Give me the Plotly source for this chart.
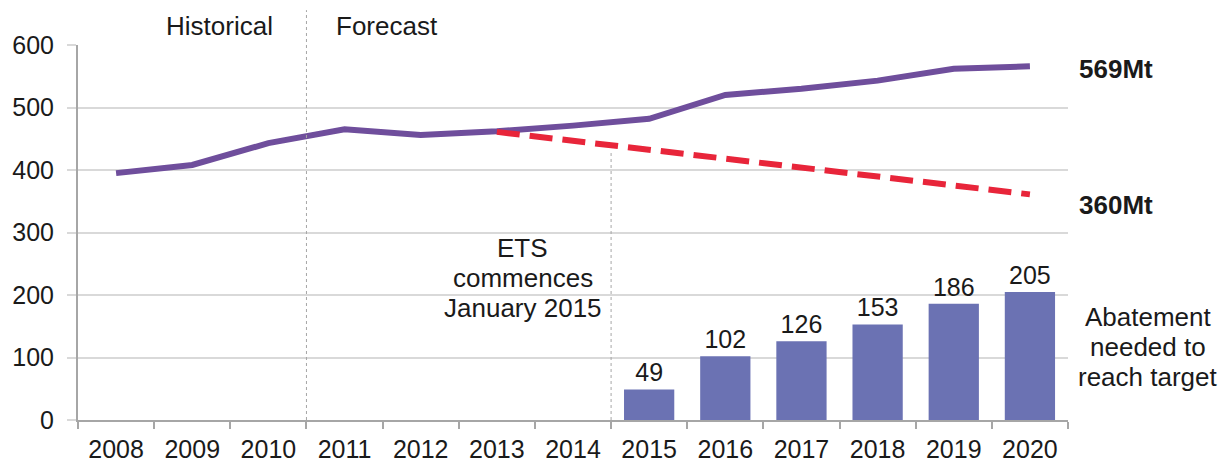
import plotly.graph_objects as go

years = ["2008", "2009", "2010", "2011", "2012", "2013", "2014",
         "2015", "2016", "2017", "2018", "2019", "2020"]
emissions = [395, 408, 443, 465, 456, 462, 471, 482, 520, 530, 543, 562, 566]

target_years = ["2013", "2014", "2015", "2016", "2017", "2018", "2019", "2020"]
target = [461, 447, 433, 418, 404, 389, 375, 361]

abatement_years = ["2015", "2016", "2017", "2018", "2019", "2020"]
abatement = [49, 102, 126, 153, 186, 205]

y_ticks = [0, 100, 200, 300, 400, 500, 600]

FONT = "Liberation Sans, Arial, sans-serif"
TEXT = "#1a1a1a"
TICK_SIZE = 25
NOTE_SIZE = 26

fig = go.Figure()

fig.add_trace(
    go.Bar(
        x=abatement_years,
        y=abatement,
        marker=dict(color="#6b72b3", line=dict(width=0)),
        width=0.66,
        text=[str(v) for v in abatement],
        textposition="outside",
        textfont=dict(size=TICK_SIZE, color=TEXT, family=FONT),
        cliponaxis=False,
        showlegend=False,
    )
)

fig.add_trace(
    go.Scatter(
        x=years,
        y=emissions,
        mode="lines",
        line=dict(color="#6f4e9c", width=6),
        showlegend=False,
    )
)

fig.add_trace(
    go.Scatter(
        x=target_years,
        y=target,
        mode="lines",
        line=dict(color="#e8253a", width=6, dash="23px,10px"),
        showlegend=False,
    )
)

# boundaries between categories for the vertical markers
forecast_x = years.index("2011") - 0.5
ets_x = years.index("2015") - 0.5

fig.add_shape(
    type="line", xref="x", yref="paper",
    x0=forecast_x, x1=forecast_x, y0=0, y1=1.093,
    line=dict(color="#a6a6a6", width=1, dash="3px,3px"),
)
fig.add_shape(
    type="line", xref="x", yref="y",
    x0=ets_x, x1=ets_x, y0=0, y1=432,
    line=dict(color="#a6a6a6", width=1, dash="3px,3px"),
)


def note(x, y, text, xref="x", yref="y", xanchor="center"):
    fig.add_annotation(
        x=x, y=y, xref=xref, yref=yref, text=text,
        xanchor=xanchor, yanchor="middle", showarrow=False,
        font=dict(size=NOTE_SIZE, color=TEXT, family=FONT),
    )


note(1.358, 1.05, "Historical", yref="paper")
note(3.558, 1.05, "Forecast", yref="paper")

# one line per annotation to keep the tight line spacing
for text, y in zip(["ETS", "commences", "January 2015"], [275, 227, 179]):
    note(5.34, y, text)

note(1.009, 562, "<b>569Mt</b>", xref="paper", xanchor="left")
note(1.009, 344, "<b>360Mt</b>", xref="paper", xanchor="left")

for text, y in zip(["Abatement", "needed to", "reach target"], [165, 117, 69]):
    note(1.0813, y, text, xref="paper")

# the page body adds 8px, so the figure is 8px smaller and margins shifted
fig.update_layout(
    width=1222,
    height=461,
    margin=dict(l=70, r=162, t=37, b=49),
    plot_bgcolor="white",
    paper_bgcolor="white",
    font=dict(family=FONT, size=TICK_SIZE, color=TEXT),
)

fig.update_xaxes(
    type="category",
    categoryorder="array",
    categoryarray=years,
    range=[-0.5, len(years) - 0.5],
    tickson="boundaries",
    ticks="outside",
    ticklen=7,
    tickcolor="#a6a6a6",
    tickwidth=2,
    showline=True,
    linecolor="#a6a6a6",
    linewidth=2,
    showgrid=False,
    automargin=False,
    ticklabelstandoff=6,
    tickfont=dict(size=TICK_SIZE, color=TEXT),
)

fig.update_yaxes(
    range=[0, 600],
    tickvals=y_ticks,
    showgrid=True,
    gridcolor="#d9d9d9",
    gridwidth=2,
    showline=True,
    linecolor="#a6a6a6",
    linewidth=2,
    ticks="outside",
    ticklen=9,
    tickcolor="#d9d9d9",
    tickwidth=2,
    ticklabelstandoff=8,
    automargin=False,
    zeroline=False,
    tickfont=dict(size=TICK_SIZE, color=TEXT),
)

fig.write_html("out.html")
